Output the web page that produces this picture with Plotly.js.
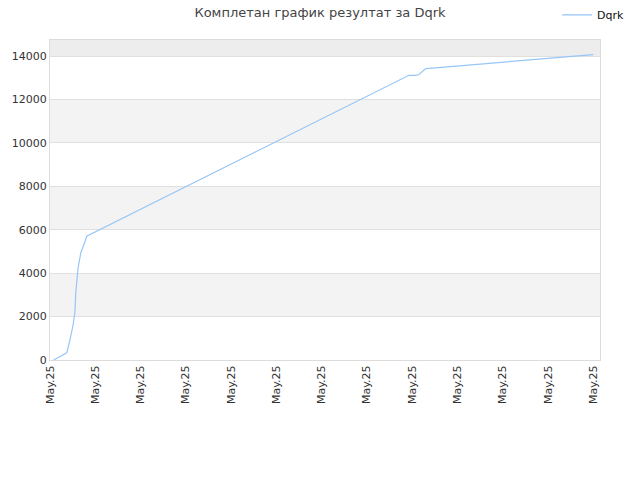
<!DOCTYPE html>
<html>
<head>
<meta charset="utf-8">
<script src="https://cdn.plot.ly/plotly-3.0.1.min.js"></script>
<style>html,body{margin:0;padding:0;background:#fff;}#chart{width:640px;height:480px;}</style>
</head>
<body>
<div id="chart"></div>
<script>
// Data (x in day-position units, y cumulative result)
const xValues = [0.8, 3.7, 4.4, 5.1, 5.5, 5.7, 6.2, 6.8, 7.7, 8.1, 79.3, 80.8, 81.5, 82.6, 83.0, 86.5, 120];
const yValues = [0, 330, 921, 1612, 2210, 3131, 4237, 4927, 5434, 5700, 13110, 13110, 13150, 13350, 13420, 13480, 14065];
const seriesName = "Dqrk";
const tickPositions = [0, 10, 20, 30, 40, 50, 60, 70, 80, 90, 100, 110, 120];
const tickLabels = ["May.25","May.25","May.25","May.25","May.25","May.25","May.25","May.25","May.25","May.25","May.25","May.25","May.25"];
const yTicks = [0, 2000, 4000, 6000, 8000, 10000, 12000, 14000];
const yTickLabels = ["0", "2000", "4000", "6000", "8000", "10000", "12000", "14000"];
const yMax = 14737;
const titleText = "Комплетан график резултат за Dqrk";

const shapes = [];
for (let i = 0; i < yTicks.length; i++) {
  if (i % 2 === 1) {
    const top = (i + 1 < yTicks.length) ? yTicks[i + 1] : yMax;
    shapes.push({type: 'rect', xref: 'paper', yref: 'y', x0: 0, x1: 1, y0: yTicks[i], y1: top,
      fillcolor: (i + 1 < yTicks.length) ? '#f3f3f3' : '#ededed', line: {width: 0}, layer: 'below'});
  }
}

const trace = {
  x: xValues, y: yValues, name: seriesName, type: 'scatter', mode: 'lines',
  line: {color: '#96c6f7', width: 1.2}
};

const layout = {
  width: 640, height: 480,
  margin: {l: 50, r: 40, t: 40, b: 120, autoexpand: false},
  paper_bgcolor: '#ffffff', plot_bgcolor: '#ffffff',
  font: {family: 'DejaVu Sans, sans-serif', size: 11, color: '#333'},
  title: {text: titleText, x: 0.5, xref: 'container', xanchor: 'center', y: 0.975, yref: 'container', yanchor: 'middle',
    font: {family: 'DejaVu Sans, sans-serif', size: 13, color: '#444'}},
  showlegend: true,
  legend: {x: 0.983, xref: 'container', xanchor: 'right', y: 0.969, yref: 'container', yanchor: 'middle',
    font: {size: 11, color: '#111'}, bgcolor: 'rgba(0,0,0,0)', itemwidth: 30},
  shapes: shapes,
  xaxis: {range: [0, 121.5], tickmode: 'array', tickvals: tickPositions, ticktext: tickLabels,
    tickangle: -90, showgrid: false, zeroline: false, showline: true, mirror: true, linecolor: '#dcdcdc',
    ticks: '', tickfont: {size: 11, color: '#333'}},
  yaxis: {range: [0, yMax], tickmode: 'array', tickvals: yTicks, ticktext: yTickLabels, showgrid: true, gridcolor: '#e0e0e0',
    zeroline: false, showline: true, mirror: true, linecolor: '#dcdcdc', ticks: '',
    tickfont: {size: 11, color: '#333'}, layer: 'above traces'}
};

Plotly.newPlot('chart', [trace], layout, {displayModeBar: false, staticPlot: true});
</script>
</body>
</html>
